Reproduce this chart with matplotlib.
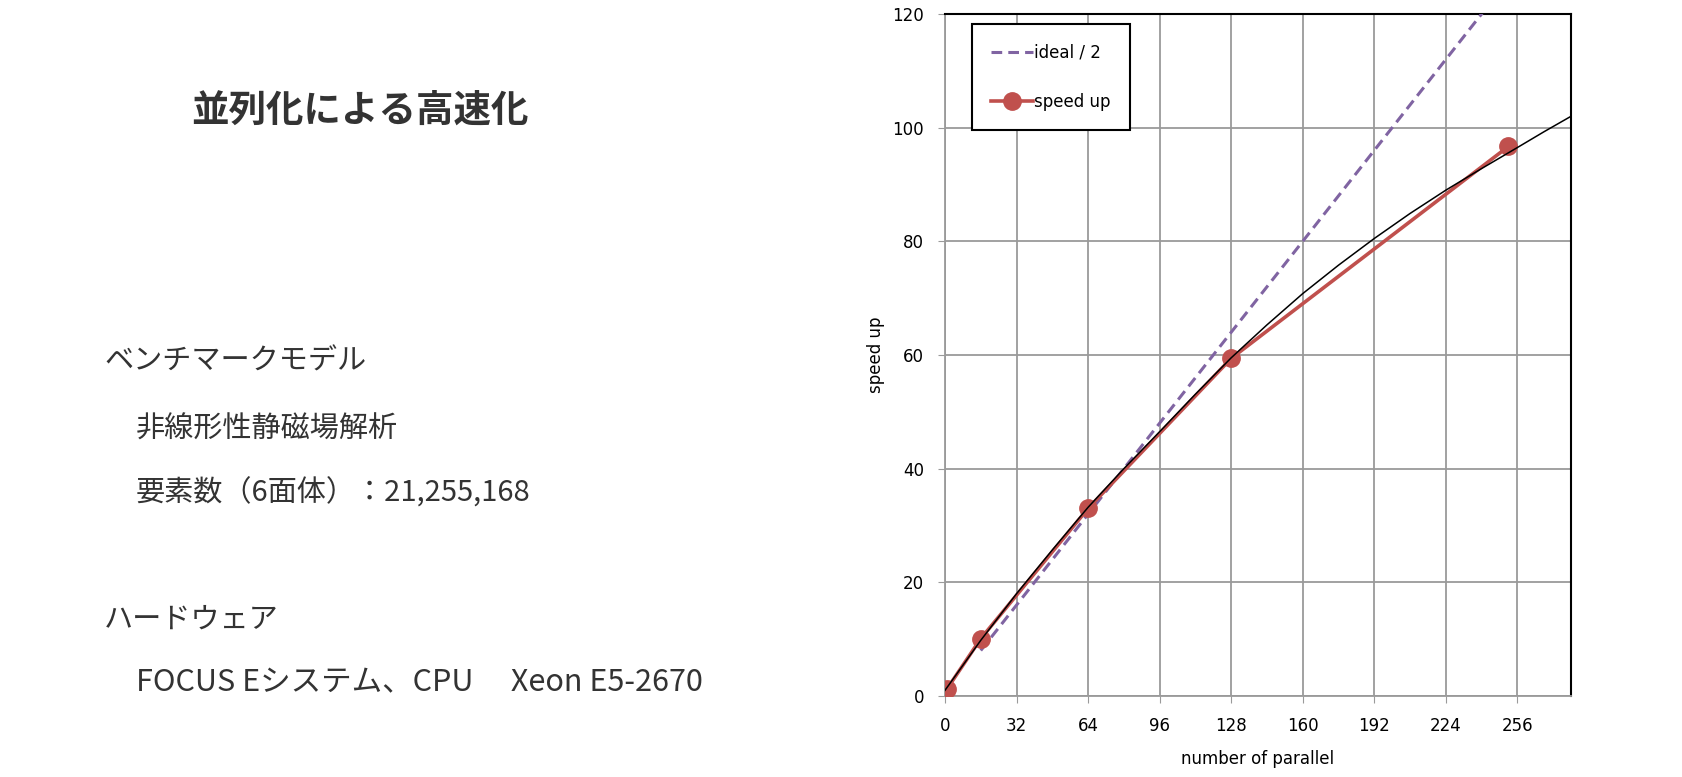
import matplotlib
matplotlib.use('Agg')
from matplotlib import pyplot as plt

plt.rcParams['font.family'] = ['Noto Sans CJK JP', 'DejaVu Sans']

# data
procs = [1, 16, 64, 128, 252]
speedup = [1.3, 10.1, 33.0, 59.4, 96.7]

ideal_x = [16, 32, 64, 128, 256]
ideal_half = [8, 16, 32, 64, 128]

# thin black trend curve, read point by point
trend_x = [0, 16, 32, 48, 64, 80, 96, 112, 128, 144, 160, 176, 192, 208, 224,
           240, 256, 268, 280]
trend_y = [1.0, 9.8, 18.0, 25.7, 33.2, 40.0, 46.5, 53.1, 59.5, 65.3, 70.8,
           75.8, 80.5, 84.9, 89.0, 92.8, 96.5, 99.3, 102.0]

xticks = [0, 32, 64, 96, 128, 160, 192, 224, 256]
yticks = [0, 20, 40, 60, 80, 100, 120]

title = '並列化による高速化'
lines = [
    ('ベンチマークモデル', 104, 362, 21),
    ('非線形性静磁場解析', 136, 430, 21),
    ('要素数（6面体）：21,255,168', 136, 493, 21),
    ('ハードウェア', 104, 620, 21),
    ('FOCUS Eシステム、CPU　 Xeon E5-2670', 136, 683, 22),
]

W, H = 1682, 777
fig = plt.figure(figsize=(W / 100, H / 100), dpi=100)
fig.patch.set_facecolor('white')

# left side text block
fig.text(191 / W, 1 - 110 / H, title, fontsize=27, fontweight='bold',
         color='#333333', va='center', ha='left')
for s, x, y, fs in lines:
    fig.text(x / W, 1 - y / H, s, fontsize=fs, color='#333333',
             va='center', ha='left')

# chart
ax = fig.add_axes([945 / W, 1 - 696 / H, 626 / W, 682 / H])
tick_font = ['Liberation Sans Narrow', 'DejaVu Sans']

ax.plot(ideal_x, ideal_half, color='#8064A2', lw=2.2, ls=(0, (3.5, 2)),
        label='ideal / 2', zorder=3)
ax.plot(procs, speedup, color='#C0504D', lw=2.6, marker='o', ms=12.5,
        label='speed up', zorder=4)
ax.plot(trend_x, trend_y, color='black', lw=1.1, zorder=5)

ax.set_xlim(0, 280)
ax.set_ylim(0, 120)
ax.set_xticks(xticks)
ax.set_yticks(yticks)
ax.grid(True, color='#9a9a9a', lw=1.3)
ax.set_axisbelow(True)
ax.tick_params(length=5, color='#9a9a9a', labelsize=12, pad=10)
for lab in ax.get_xticklabels() + ax.get_yticklabels():
    lab.set_family(tick_font)

for side in ['top', 'right']:
    ax.spines[side].set_color('black')
    ax.spines[side].set_linewidth(1.5)
for side in ['left', 'bottom']:
    ax.spines[side].set_color('#9a9a9a')
    ax.spines[side].set_linewidth(1.3)

ax.set_xlabel('number of parallel', fontsize=12, family=tick_font, labelpad=11)
ax.set_ylabel('speed up', fontsize=12, family=tick_font, labelpad=5)

leg = ax.legend(loc='upper left', bbox_to_anchor=(0.043, 0.985), frameon=True,
                fancybox=False, edgecolor='black', labelspacing=1.9,
                borderpad=1.15, handlelength=2.5, handletextpad=0.1,
                prop={'family': tick_font, 'size': 12}, borderaxespad=0)
leg.get_frame().set_linewidth(1.5)
leg.get_frame().set_alpha(1)

plt.savefig('out.png', dpi=100)
